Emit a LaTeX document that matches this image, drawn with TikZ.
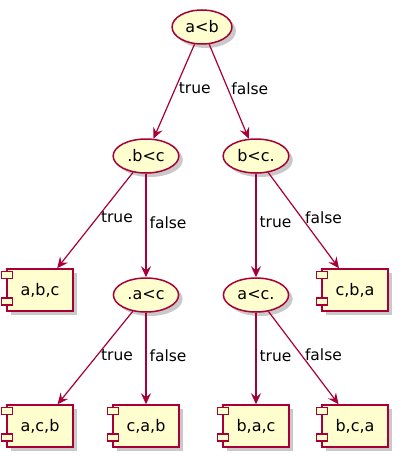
\documentclass[tikz,border=0pt]{standalone}
\usepackage{fontspec}
\setmainfont{DejaVu Sans}
\usetikzlibrary{shapes.geometric,shadows,arrows.meta}
\definecolor{umlred}{HTML}{A80036}
\definecolor{umlfill}{HTML}{FEFECE}
\tikzset{
	umlshadow/.style={drop shadow={shadow xshift=4pt, shadow yshift=-4pt, opacity=0.3, fill=black!70}},
	cond/.style={ellipse, draw=umlred, fill=umlfill, line width=1.5pt, inner xsep=4.5pt, inner ysep=0pt, minimum height=34pt, font=\fontsize{16}{19}\selectfont, umlshadow},
	comp/.style={rectangle, draw=umlred, fill=umlfill, line width=1.5pt, minimum width=66pt, minimum height=42pt, font=\fontsize{16}{19}\selectfont, umlshadow},
	tab/.style={draw=umlred, fill=umlfill, line width=1.5pt},
	flow/.style={draw=umlred, line width=1.2pt, -{Stealth[length=11pt, width=10pt, inset=4pt]}},
	lbl/.style={anchor=west, inner sep=3pt, pos=0.47, font=\fontsize{15.5}{18}\selectfont},
}

\begin{document}
\begin{tikzpicture}[x=1pt, y=-1pt]
	\useasboundingbox (0,0) rectangle (404,460);
	% Nodes
	\node[cond] (ab) at (202,27) {a<b};
	\node[cond] (bc) at (146,156) {.b<c};
	\node[cond] (bcx) at (256,156) {b<c.};
	\node[comp] (abc) at (40,290) {a,b,c};
	\node[cond] (ac) at (146,295) {.a<c};
	\node[cond] (acx) at (256,295) {a<c.};
	\node[comp] (cba) at (355,290) {c,b,a};
	\node[comp] (acb) at (40,426) {a,c,b};
	\node[comp] (cab) at (146,426) {c,a,b};
	\node[comp] (bac) at (256,426) {b,a,c};
	\node[comp] (bca) at (355,426) {b,c,a};
	% Component tabs
	\foreach \n in {abc,cba,acb,cab,bac,bca} {
		\draw[tab] ([xshift=-5pt, yshift=-3pt]\n.north west) rectangle ([xshift=6pt, yshift=-10pt]\n.north west);
		\draw[tab] ([xshift=-5pt, yshift=14pt]\n.south west) rectangle ([xshift=6pt, yshift=7pt]\n.south west);
	}
	% Edges
	\foreach \s/\t/\l in {ab/bc/true, ab/bcx/false, bc/abc/true, bc/ac/false, bcx/acx/true, bcx/cba/false, ac/acb/true, ac/cab/false, acx/bac/true, acx/bca/false} {
		\draw[flow] (\s) -- node[lbl] {\l} (\t);
	}
\end{tikzpicture}
\end{document}
